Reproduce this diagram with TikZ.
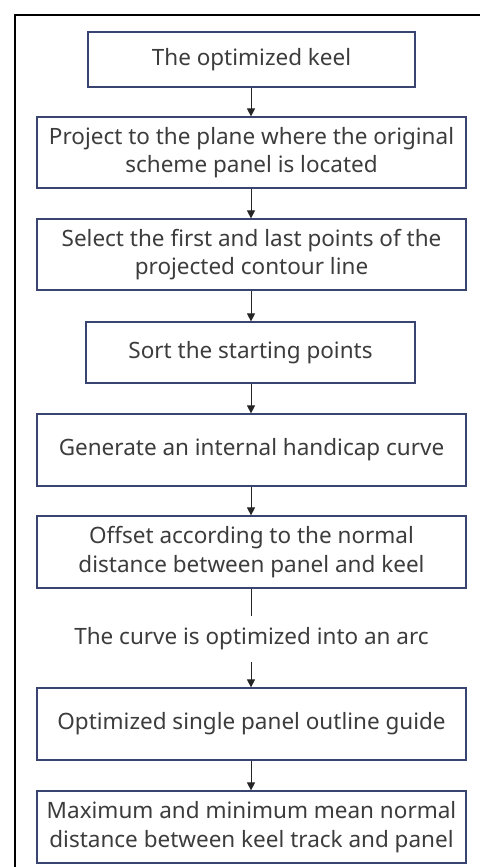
\documentclass[tikz,border=0pt]{standalone}
\usepackage{fontspec}
\setmainfont{Noto Sans}
\usetikzlibrary{arrows.meta}
\definecolor{boxc}{HTML}{3A4470}
\definecolor{txtc}{HTML}{3C3C3C}
\tikzset{
  stepbox/.style={draw=boxc, line width=1.2bp, rectangle, align=center, inner sep=0pt,
    text=txtc, font=\fontsize{22.5bp}{28.5bp}\selectfont},
  conn/.style={draw=black!85, line width=1bp, -{Triangle[length=8bp,width=8bp]}},
  plainconn/.style={draw=black!85, line width=1bp},
}
\begin{document}
\begin{tikzpicture}[x=1bp,y=-1bp]
\useasboundingbox (0,0) rectangle (480,867);
\draw[line width=2.2bp, black] (15,867) -- (15,15) -- (480,15);
\node[stepbox, minimum width=327bp, minimum height=55bp] (b1) at (251.5,59.5) {The optimized keel};
\node[stepbox, minimum width=429bp, minimum height=71bp] (b2) at (251.5,152.5) {Project to the plane where the original\\scheme panel is located};
\node[stepbox, minimum width=429bp, minimum height=71bp] (b3) at (251.5,254.5) {Select the first and last points of the\\projected contour line};
\node[stepbox, minimum width=329bp, minimum height=61bp] (b4) at (250.5,352.5) {Sort the starting points};
\node[stepbox, minimum width=429bp, minimum height=72bp] (b5) at (251.5,450) {Generate an internal handicap curve};
\node[stepbox, minimum width=429bp, minimum height=72bp] (b6) at (251.5,552) {Offset according to the normal\\distance between panel and keel};
\node[text=txtc, font=\fontsize{22.5bp}{28.5bp}\selectfont, inner sep=0pt, minimum height=46bp] (t) at (251.5,639) {The curve is optimized into an arc};
\node[stepbox, minimum width=429bp, minimum height=72bp] (b7) at (251.5,724) {Optimized single panel outline guide};
\node[stepbox, minimum width=429bp, minimum height=72bp] (b8) at (251.5,827) {Maximum and minimum mean normal\\distance between keel track and panel};
\draw[conn] (b1.south -| 251,0) -- (b2.north -| 251,0);
\draw[conn] (b2.south -| 251,0) -- (b3.north -| 251,0);
\draw[conn] (b3.south -| 251,0) -- (b4.north -| 251,0);
\draw[conn] (b4.south -| 251,0) -- (b5.north -| 251,0);
\draw[conn] (b5.south -| 251,0) -- (b6.north -| 251,0);
\draw[plainconn] (b6.south -| 251,0) -- (t.north -| 251,0);
\draw[conn] (t.south -| 251,0) -- (b7.north -| 251,0);
\draw[conn] (b7.south -| 251,0) -- (b8.north -| 251,0);
\end{tikzpicture}
\end{document}
